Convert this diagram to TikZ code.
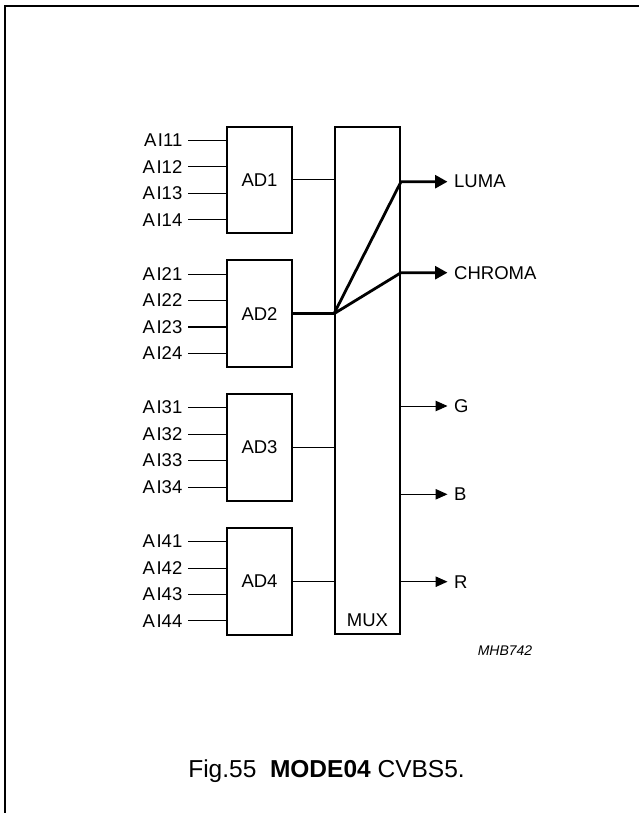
\documentclass[tikz,border=0pt]{standalone}
\usepackage{fontspec}
\setmainfont{Liberation Sans}
\usetikzlibrary{arrows.meta}
\begin{document}
\begin{tikzpicture}[x=1pt,y=-1pt,
  box/.style={draw,line width=2pt,minimum width=65.6pt,minimum height=106.6pt,inner sep=0pt,font=\fontsize{18.5}{18.5}\selectfont},
  lbl/.style={inner sep=0pt,font=\fontsize{18.5}{18.5}\selectfont},
  thinline/.style={line width=1pt},
  boldline/.style={line width=2.8pt},
  arrthin/.style={-{Triangle[length=12pt,width=10.5pt]}},
  arrbold/.style={-{Triangle[length=12.5pt,width=13pt]}}]
\useasboundingbox (0,0) rectangle (639,813);
% frame
\draw[line width=1.5pt] (5,813) -- (5,6) -- (639,6);
% converter blocks
\node[box] (ad1) at (259.5,180) {AD1};
\node[box] (ad2) at (259.5,313.7) {AD2};
\node[box] (ad3) at (259.5,447.3) {AD3};
\node[box] (ad4) at (259.5,581.2) {AD4};
% multiplexer
\node[draw,line width=2pt,minimum width=65pt,minimum height=507pt,inner sep=0pt] (mux) at (367.5,380.5) {};
\node[lbl] (muxl) at (367.5,620) {MUX};
% inputs
\foreach \i/\cy in {1/180,2/313.7,3/447.3,4/581.2} {
  \foreach \j/\dy in {1/-39.7,2/-13.2,3/13.2,4/39.7} {
    \node[lbl,anchor=east] (ai\i\j) at (182.5,\cy+\dy) {A\kern1.5pt I\i\j};
    \def\w{thinline}\ifnum\i\j=23 \def\w{boldline}\fi
    \draw[\w] ([xshift=5.5pt]ai\i\j.east) -- (ad\i.west |- ai\i\j.east);
  }
}
% outputs of converters
\draw[thinline] (ad1.east) -- (mux.west |- ad1.east);
\draw[thinline] (ad3.east) -- (mux.west |- ad3.east);
\draw[thinline] (ad4.east) -- (mux.west |- ad4.east);
\coordinate (jn) at (mux.west |- ad2.east);
\draw[boldline] (ad2.east) -- (jn);
% output labels
\node[lbl,anchor=west] (luma) at (454,181.7) {LUMA};
\node[lbl,anchor=west] (chroma) at (454,272.7) {CHROMA};
\node[lbl,anchor=west] (g) at (454,406) {G};
\node[lbl,anchor=west] (b) at (454,494.3) {B};
\node[lbl,anchor=west] (r) at (454,581.7) {R};
% bold routed outputs
\coordinate (ls) at (mux.east |- luma.west);
\coordinate (cs) at (mux.east |- chroma.west);
\draw[boldline,arrbold] (jn) -- (ls) -- ([xshift=-6.5pt]luma.west);
\draw[boldline,arrbold] (jn) -- (cs) -- ([xshift=-6.5pt]chroma.west);
% thin outputs
\draw[thinline,arrthin] (mux.east |- g.west) -- ([xshift=-6.5pt]g.west);
\draw[thinline,arrthin] (mux.east |- b.west) -- ([xshift=-6.5pt]b.west);
\draw[thinline,arrthin] (mux.east |- r.west) -- ([xshift=-6.5pt]r.west);
% code and caption
\node[inner sep=0pt,font=\fontsize{14}{14}\selectfont\itshape] (code) at (505,651) {MHB742};
\node[inner sep=0pt,font=\fontsize{24.5}{24.5}\selectfont,anchor=base] (cap) at (326.5,777) {Fig.55\ \ \textbf{MODE04} CVBS5.};
\end{tikzpicture}
\end{document}
